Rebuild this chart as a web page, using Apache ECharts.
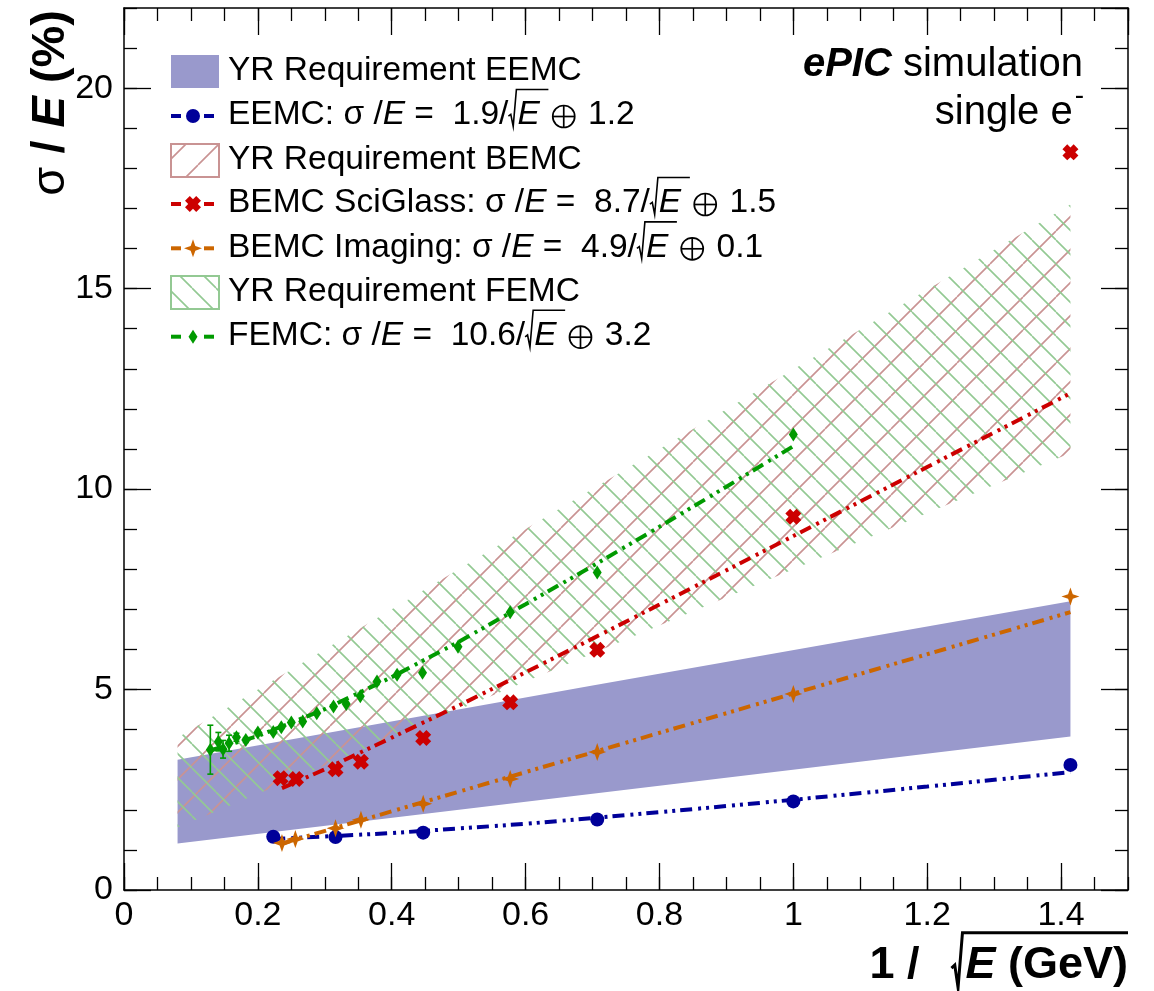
<!DOCTYPE html>
<html>
<head>
<meta charset="utf-8">
<script src="https://cdn.jsdelivr.net/npm/echarts@6/dist/echarts.min.js"></script>
<style>
html, body { margin: 0; padding: 0; background: #fff; }
#chart { width: 1154px; height: 991px; }
</style>
</head>
<body>
<div id="chart"></div>
<script>
// ---- data ----
// YR requirement bands (polygon edges, x = 1/sqrt(E))
const bandX = [0.08, 0.70, 1.414];
const eemcBandLow = [1.16, 2.40, 3.83];
const eemcBandHigh = [3.25, 5.10, 7.20];
const bemcBandLow = [1.56, 5.90, 10.9];
const bemcBandHigh = [3.80, 10.0, 17.1];
const femcBandLow = [1.56, 5.90, 10.9];
const femcBandHigh = [3.80, 10.0, 17.1];

// EEMC points + fit
const eemcX = [0.223, 0.316, 0.447, 0.707, 1.0, 1.414];
const eemcY = [1.33, 1.32, 1.43, 1.76, 2.21, 3.12];
const eemcFitX = [0.223, 0.4, 0.6, 0.8, 1.0, 1.2, 1.414];
const eemcFitY = [1.27, 1.42, 1.65, 1.94, 2.25, 2.58, 2.94];

// BEMC SciGlass points + fit
const sciX = [0.234, 0.257, 0.316, 0.354, 0.447, 0.577, 0.707, 1.0, 1.414];
const sciY = [2.79, 2.77, 3.01, 3.20, 3.79, 4.68, 5.99, 9.31, 18.4];
const sciFitX = [0.236, 0.3, 0.4, 0.5, 0.6, 0.7, 0.8, 1.0, 1.2, 1.414];
const sciFitY = [2.54, 3.01, 3.80, 4.60, 5.43, 6.27, 7.12, 8.83, 10.55, 12.39];

// BEMC Imaging points + fit
const imgX = [0.236, 0.256, 0.316, 0.354, 0.447, 0.577, 0.707, 1.0, 1.414];
const imgY = [1.17, 1.27, 1.54, 1.75, 2.15, 2.77, 3.44, 4.89, 7.32];
const imgFitX = [0.236, 0.6, 1.0, 1.414];
const imgFitY = [1.16, 2.94, 4.90, 6.93];

// FEMC points (with errors) + fit
const femcX = [0.129, 0.141, 0.148, 0.157, 0.168, 0.182, 0.200, 0.223, 0.235, 0.250, 0.267,
  0.288, 0.313, 0.332, 0.353, 0.378, 0.408, 0.446, 0.499, 0.577, 0.707, 1.0];
const femcY = [3.50, 3.70, 3.51, 3.66, 3.81, 3.74, 3.93, 3.94, 4.06, 4.18, 4.20,
  4.41, 4.58, 4.64, 4.83, 5.20, 5.37, 5.42, 6.07, 6.93, 7.92, 11.36];
const femcErr = [0.61, 0.23, 0.22, 0.20, 0.10, 0.06, 0.05, 0.04, 0.03, 0.03, 0.03,
  0.02, 0.02, 0.02, 0.02, 0.02, 0.02, 0.02, 0.02, 0.02, 0.02, 0.02];
const femcFitX = [0.129, 0.2, 0.3, 0.4, 0.5, 0.6, 0.7, 0.8, 0.9, 1.0];
const femcFitY = [3.48, 3.84, 4.51, 5.31, 6.19, 7.13, 8.08, 9.06, 10.06, 11.07];

// ---- style ----
const FONT = '"Liberation Sans", Arial, Helvetica, sans-serif';
const NAVY = '#000099';
const RED = '#cc0000';
const ORANGE = '#cc6600';
const GREEN = '#009a00';
const BAND = '#9999cc';
const RED_HATCH = '#c99393';
const GREEN_HATCH = '#93c993';
const DASH = [12, 6, 3, 5, 3, 5];
// marker outlines in a 10x10 box
const X_SHAPE = [[3,0],[5,2],[7,0],[10,3],[8,5],[10,7],[7,10],[5,8],[3,10],[0,7],[2,5],[0,3]];
const STAR_SHAPE = [[5,0],[6.3,3.7],[10,5],[6.3,6.3],[5,10],[3.7,6.3],[0,5],[3.7,3.7]];
const toPath = pts => 'path://M' + pts.map(p => p[0] + ',' + p[1]).join('L') + 'Z';
const placed = (pts, cx, cy, size) => pts.map(p => [cx + (p[0] - 5) * size / 10, cy + (p[1] - 5) * size / 10]);

function hatch(period, dir, color, lw) {
    const c = document.createElement('canvas');
    c.width = period; c.height = period;
    const g = c.getContext('2d');
    g.strokeStyle = color; g.lineWidth = lw;
    g.beginPath();
    for (const o of [-period, 0, period]) {
        if (dir > 0) { g.moveTo(o, period); g.lineTo(o + period, 0); }
        else { g.moveTo(o, 0); g.lineTo(o + period, period); }
    }
    g.stroke();
    return c;
}
const redPattern = { image: hatch(33, 1, RED_HATCH, 1.6), repeat: 'repeat' };
const greenPattern = { image: hatch(24, -1, GREEN_HATCH, 1.6), repeat: 'repeat' };

// text made of pieces (italic / bold / radical with overline / circled plus / spacers), laid out from x=0
const mctx = document.createElement('canvas').getContext('2d');
function fnt(s, size) {
    return (s.i ? 'italic ' : '') + (s.b ? 'bold ' : '') + size + 'px ' + FONT;
}
function textGroup(segs, size, gx, gy, align, rotation) {
    const color = '#000';
    const pieces = [];
    let x = 0;
    segs.forEach(s => {
        if (s.sp) { x += s.sp; return; }
        if (s.r) { pieces.push({ kind: 'rad', x, s }); x += s.w; return; }
        if (s.oplus) { pieces.push({ kind: 'oplus', x, s }); x += s.oplus; return; }
        const sz = size * (s.sup ? 0.7 : 1);
        mctx.font = fnt(s, sz);
        const w = mctx.measureText(s.t).width;
        pieces.push({ kind: 'text', x, w, s, sz, dy: s.sup ? -size * 0.42 : 0 });
        x += w;
    });
    const total = x;
    const off = align === 'right' ? -total : 0;
    const children = [];
    pieces.forEach(p => {
        const px = p.x + off;
        if (p.kind === 'rad') {
            const r = p.s, top = -size * r.top, bot = size * r.bot;
            const endX = r.toEnd ? total + off : px + r.w + r.over;
            children.push({
                type: 'polyline',
                shape: { points: [[px, bot * 0.1], [px + r.w * 0.3, -size * 0.02], [px + r.w * 0.6, bot], [px + r.w, top], [endX, top]] },
                style: { stroke: color, lineWidth: r.b ? 3 : 1.6, fill: null, lineJoin: 'miter' }
            });
        } else if (p.kind === 'oplus') {
            const d = p.s.oplus, cx = px + d / 2, cy = 1.5, rr = d / 2 - 1;
            const st = { stroke: color, lineWidth: 1.7, fill: null };
            children.push({ type: 'circle', shape: { cx, cy, r: rr }, style: st });
            children.push({ type: 'line', shape: { x1: cx - rr, y1: cy, x2: cx + rr, y2: cy }, style: st });
            children.push({ type: 'line', shape: { x1: cx, y1: cy - rr, x2: cx, y2: cy + rr }, style: st });
        } else {
            children.push({ type: 'text', x: px, y: p.dy, style: { text: p.s.t, font: fnt(p.s, p.sz), fill: color, textVerticalAlign: 'middle' } });
        }
    });
    return { type: 'group', x: gx, y: gy, rotation: rotation || 0, z: 100, children };
}

// ---- legend (drawn as graphic) ----
const LEG_X = 171, LEG_TX = 228, LEG_SIZE = 33.5;
const legRows = [71.5, 116, 160.5, 204, 248.3, 292.5, 336.7];
function formula(name, a, b) {
    return [{ t: name + ' ' }, { t: 'σ /' }, { t: 'E', i: 1 }, { t: ' =  ' + a + '/' },
        { r: 1, w: 8, top: 0.76, bot: 0.34, over: 32 }, { sp: 1 }, { t: 'E', i: 1 },
        { sp: 12 }, { oplus: 24 }, { sp: 3 }, { t: ' ' + b }];
}
const legTexts = [
    [{ t: 'YR Requirement EEMC' }],
    formula('EEMC:', '1.9', '1.2'),
    [{ t: 'YR Requirement BEMC' }],
    formula('BEMC SciGlass:', '8.7', '1.5'),
    formula('BEMC Imaging:', '4.9', '0.1'),
    [{ t: 'YR Requirement FEMC' }],
    formula('FEMC:', '10.6', '3.2')
];
function lineIcon(cy, color, marker) {
    const els = [
        { type: 'line', shape: { x1: LEG_X, y1: cy, x2: LEG_X + 10, y2: cy }, style: { stroke: color, lineWidth: 4 } },
        { type: 'line', shape: { x1: LEG_X + 33, y1: cy, x2: LEG_X + 43, y2: cy }, style: { stroke: color, lineWidth: 4 } }
    ];
    const mx = LEG_X + 22;
    if (marker === 'circle') els.push({ type: 'circle', shape: { cx: mx, cy, r: 7 }, style: { fill: color } });
    if (marker === 'diamond') els.push({ type: 'polygon', shape: { points: [[mx, cy - 7], [mx + 4.5, cy], [mx, cy + 7], [mx - 4.5, cy]] }, style: { fill: color } });
    if (marker === 'x') els.push({ type: 'polygon', shape: { points: placed(X_SHAPE, mx, cy, 16) }, style: { fill: color } });
    if (marker === 'star') els.push({ type: 'polygon', shape: { points: placed(STAR_SHAPE, mx, cy, 18) }, style: { fill: color } });
    return els;
}
const legendEls = [];
legendEls.push({ type: 'rect', shape: { x: LEG_X, y: legRows[0] - 16.5, width: 48, height: 33 }, style: { fill: BAND }, z: 100 });
legendEls.push({ type: 'rect', shape: { x: LEG_X, y: legRows[2] - 16.5, width: 48, height: 33 }, style: { fill: redPattern, stroke: RED_HATCH, lineWidth: 2 }, z: 100 });
legendEls.push({ type: 'rect', shape: { x: LEG_X, y: legRows[5] - 16.5, width: 48, height: 33 }, style: { fill: greenPattern, stroke: GREEN_HATCH, lineWidth: 2 }, z: 100 });
[[1, NAVY, 'circle'], [3, RED, 'x'], [4, ORANGE, 'star'], [6, GREEN, 'diamond']].forEach(([r, c, m]) => {
    lineIcon(legRows[r], c, m).forEach(e => { e.z = 100; legendEls.push(e); });
});
legTexts.forEach((segs, k) => legendEls.push(textGroup(segs, LEG_SIZE, LEG_TX, legRows[k] - 1, 'left')));

// labels and axis titles
legendEls.push(textGroup([{ t: 'ePIC', b: 1, i: 1 }, { t: ' simulation' }], 40, 1083, 65, 'right'));
legendEls.push(textGroup([{ t: 'single e' }, { sp: 2 }, { t: '-', sup: 1 }], 40, 1084, 113, 'right'));
legendEls.push(textGroup([{ t: 'σ' }, { t: ' / ', b: 1 }, { t: 'E', b: 1, i: 1 }, { t: ' (%)', b: 1 }], 47, 51, 10, 'right', Math.PI / 2));
legendEls.push(textGroup([{ t: '1 /', b: 1 }, { sp: 32 }, { r: 1, b: 1, w: 11, top: 0.74, bot: 0.48, toEnd: true }, { sp: 3 },
    { t: 'E', b: 1, i: 1 }, { t: ' (GeV)', b: 1 }], 45, 1128, 966, 'right'));

// ---- axes ----
const labelStyle = { color: '#000', fontSize: 34, fontFamily: FONT };
function xAx(pos, interval, len, major, labels) {
    return {
        type: 'value', position: pos, min: 0, max: 1.5, interval,
        axisLine: { show: major, onZero: false, lineStyle: { color: '#000', width: 1.5 } },
        axisTick: { show: true, inside: true, length: len, lineStyle: { color: '#000', width: 1.3 } },
        axisLabel: Object.assign({ show: labels, margin: 9, showMaxLabel: false }, labelStyle),
        splitLine: { show: false }
    };
}
function yAx(pos, interval, len, major, labels) {
    return {
        type: 'value', position: pos, min: 0, max: 22, interval,
        axisLine: { show: major, onZero: false, lineStyle: { color: '#000', width: 1.5 } },
        axisTick: { show: true, inside: true, length: len, lineStyle: { color: '#000', width: 1.3 } },
        axisLabel: Object.assign({ show: labels, margin: 11, showMaxLabel: false }, labelStyle),
        splitLine: { show: false }
    };
}

function bandSeries(xs, lo, hi, fill, z) {
    return {
        type: 'custom', z, silent: true, data: [[0, 0]],
        renderItem: (params, api) => {
            const up = xs.map((x, i) => api.coord([x, hi[i]]));
            const dn = xs.map((x, i) => api.coord([x, lo[i]])).reverse();
            return { type: 'polygon', shape: { points: up.concat(dn) }, style: { fill } };
        }
    };
}
function fitSeries(xs, ys, color) {
    return {
        type: 'line', z: 4, silent: true, showSymbol: false, symbol: 'none',
        data: xs.map((x, i) => [x, ys[i]]),
        lineStyle: { color, width: 4, type: DASH, cap: 'butt' }
    };
}
function pointSeries(xs, ys, color, symbol, size) {
    return {
        type: 'scatter', z: 6, silent: true, symbol, symbolSize: size,
        data: xs.map((x, i) => [x, ys[i]]),
        itemStyle: { color, opacity: 1 }
    };
}

const chart = echarts.init(document.getElementById('chart'));
chart.setOption({
    animation: false,
    backgroundColor: '#fff',
    grid: { left: 124, right: 26, top: 8, bottom: 101, containLabel: false, outerBoundsMode: 'none' },
    xAxis: [
        xAx('bottom', 0.2, 27, true, true),
        xAx('bottom', 0.05, 13, false, false),
        xAx('top', 0.2, 27, true, false),
        xAx('top', 0.05, 13, false, false)
    ],
    yAxis: [
        yAx('left', 5, 27, true, true),
        yAx('left', 1, 13, false, false),
        yAx('right', 5, 27, true, false),
        yAx('right', 1, 13, false, false)
    ],
    series: [
        bandSeries(bandX, eemcBandLow, eemcBandHigh, BAND, 1),
        bandSeries(bandX, bemcBandLow, bemcBandHigh, redPattern, 2),
        bandSeries(bandX, femcBandLow, femcBandHigh, greenPattern, 3),
        fitSeries(eemcFitX, eemcFitY, NAVY),
        fitSeries(sciFitX, sciFitY, RED),
        fitSeries(imgFitX, imgFitY, ORANGE),
        fitSeries(femcFitX, femcFitY, GREEN),
        {
            type: 'custom', z: 5, silent: true,
            data: femcX.map((x, i) => [x, femcY[i], femcErr[i]]),
            renderItem: (params, api) => {
                const x = api.value(0), y = api.value(1), e = api.value(2);
                const t = api.coord([x, y + e]), b = api.coord([x, y - e]);
                const st = { stroke: GREEN, lineWidth: 1.6 };
                return {
                    type: 'group', children: [
                        { type: 'line', shape: { x1: t[0], y1: t[1], x2: b[0], y2: b[1] }, style: st },
                        { type: 'line', shape: { x1: t[0] - 3, y1: t[1], x2: t[0] + 3, y2: t[1] }, style: st },
                        { type: 'line', shape: { x1: b[0] - 3, y1: b[1], x2: b[0] + 3, y2: b[1] }, style: st }
                    ]
                };
            }
        },
        pointSeries(eemcX, eemcY, NAVY, 'circle', 14),
        pointSeries(sciX, sciY, RED, toPath(X_SHAPE), 16),
        pointSeries(imgX, imgY, ORANGE, toPath(STAR_SHAPE), 18),
        pointSeries(femcX, femcY, GREEN, 'diamond', [9, 14])
    ],
    graphic: legendEls
});
</script>
</body>
</html>
